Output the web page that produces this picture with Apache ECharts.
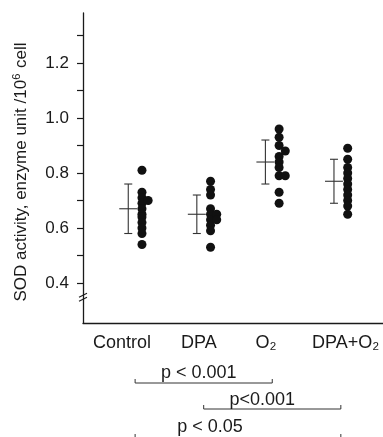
<!DOCTYPE html>
<html>
<head>
<meta charset="utf-8">
<script src="https://cdn.jsdelivr.net/npm/echarts@6/dist/echarts.min.js"></script>
<style>
  html, body { margin: 0; padding: 0; background: #fff; }
  #chart { width: 383px; height: 437px; }
</style>
</head>
<body>
<div id="chart"></div>
<script>
// groups along the x axis
const categories = ['Control', 'DPA', 'O\u2082', 'DPA+O\u2082'];

// individual values per group (main column + dots pushed to the side)
const controlVals = [0.81, 0.73, 0.71, 0.69, 0.67, 0.65, 0.64, 0.62, 0.60, 0.58, 0.54];
const controlSide = [0.70];
const dpaVals = [0.77, 0.74, 0.72, 0.67, 0.65, 0.63, 0.61, 0.59, 0.53];
const dpaSide = [0.65, 0.63];
const o2Vals = [0.96, 0.93, 0.90, 0.86, 0.84, 0.82, 0.79, 0.73, 0.69];
const o2Side = [0.88, 0.79];
const dpaO2Vals = [0.89, 0.85, 0.82, 0.80, 0.78, 0.76, 0.74, 0.72, 0.70, 0.68, 0.65];
const dpaO2Side = [];

// mean +/- SD
const means = [0.67, 0.65, 0.84, 0.77];
const sds = [0.09, 0.07, 0.08, 0.08];

// axis ticks
const yTicks = [0.4, 0.5, 0.6, 0.7, 0.8, 0.9, 1.0, 1.1, 1.2, 1.3];
const yLabels = [0.4, 0.6, 0.8, 1.0, 1.2];

// significance brackets
const pFrom = [1, 2, 1];
const pTo = [3, 4, 4];
const pText = ['p < 0.001', 'p<0.001', 'p < 0.05'];

// layout
const dotShift = 0.1;
const sideShift = 0.09;
const labelShift = [-0.19, -0.07, -0.09, 0.07];
const bracketRowY = [60, 86, 115];
const bracketTextDx = [-5, -10, -28];
const bracketTextDy = [-10, -9, -11];
const yMin = 0.2545, yMax = 1.382;
const breakAt = 0.352;
const ink = '#1a1a1a';
const font = 'Liberation Sans, Arial, sans-serif';

const allVals = [controlVals, dpaVals, o2Vals, dpaO2Vals];
const allSide = [controlSide, dpaSide, o2Side, dpaO2Side];
const dots = [];
allVals.forEach((vals, i) => {
  vals.forEach(v => dots.push([i + 1 + dotShift, v]));
  allSide[i].forEach(v => dots.push([i + 1 + dotShift + sideShift, v]));
});
const labelPos = categories.map((c, i) => i + 1 + labelShift[i]);

const chart = echarts.init(document.getElementById('chart'), null, { renderer: 'canvas' });

const option = {
  animation: false,
  backgroundColor: '#fff',
  grid: { left: 83, right: 0, top: 13, bottom: 114, containLabel: false },
  xAxis: {
    type: 'value',
    min: 0.24,
    max: 4.615,
    splitLine: { show: false },
    axisLine: { show: true, onZero: false, lineStyle: { color: ink, width: 1.3 } },
    axisTick: { show: false },
    axisLabel: {
      customValues: labelPos,
      formatter: v => {
        let best = 0;
        labelPos.forEach((p, i) => { if (Math.abs(p - v) < Math.abs(labelPos[best] - v)) best = i; });
        return categories[best];
      },
      color: ink,
      fontFamily: font,
      fontSize: 18,
      margin: 11
    }
  },
  yAxis: {
    type: 'value',
    min: yMin,
    max: yMax,
    splitLine: { show: false },
    axisLine: { show: true, lineStyle: { color: ink, width: 1.3 } },
    axisTick: { show: true, length: 6, customValues: yTicks, lineStyle: { color: ink, width: 1.2 } },
    axisLabel: {
      customValues: yLabels,
      formatter: v => v.toFixed(1),
      color: ink,
      fontFamily: font,
      fontSize: 17,
      margin: 14
    }
  },
  graphic: [{
    type: 'text',
    x: 21,
    y: 172,
    rotation: Math.PI / 2,
    style: {
      text: 'SOD activity, enzyme unit /10{sup|6} cell',
      align: 'center',
      verticalAlign: 'middle',
      fill: ink,
      font: '17px ' + font,
      rich: { sup: { fontSize: 11, fontFamily: font, fill: ink, verticalAlign: 'top', padding: [0, 1, 8, 0] } }
    }
  }],
  series: [
    {
      type: 'scatter',
      data: dots,
      symbol: 'circle',
      symbolSize: 9,
      itemStyle: { color: '#111', opacity: 1 },
      z: 3
    },
    {
      type: 'custom',
      data: means.map((m, i) => [i + 1 - dotShift, m, sds[i]]),
      encode: { x: 0, y: 1 },
      renderItem: (params, api) => {
        const x = api.value(0), m = api.value(1), s = api.value(2);
        const c = api.coord([x, m]);
        const t = api.coord([x, m + s]);
        const b = api.coord([x, m - s]);
        const st = { stroke: '#333', lineWidth: 1.1 };
        return {
          type: 'group',
          children: [
            { type: 'line', shape: { x1: c[0], y1: t[1], x2: c[0], y2: b[1] }, style: st },
            { type: 'line', shape: { x1: c[0] - 4, y1: t[1], x2: c[0] + 4, y2: t[1] }, style: st },
            { type: 'line', shape: { x1: c[0] - 4, y1: b[1], x2: c[0] + 4, y2: b[1] }, style: st },
            { type: 'line', shape: { x1: c[0] - 9, y1: c[1], x2: c[0] + 9, y2: c[1] }, style: st }
          ]
        };
      },
      z: 2
    },
    {
      type: 'custom',
      clip: false,
      data: [[0.24, breakAt]],
      encode: { x: 0, y: 1 },
      renderItem: (params, api) => {
        const p = api.coord([api.value(0), api.value(1)]);
        const st = { stroke: ink, lineWidth: 1.2 };
        return {
          type: 'group',
          children: [
            { type: 'line', shape: { x1: p[0] - 4, y1: p[1] + 1, x2: p[0] + 4, y2: p[1] - 3 }, style: st },
            { type: 'line', shape: { x1: p[0] - 4, y1: p[1] + 5, x2: p[0] + 4, y2: p[1] + 1 }, style: st }
          ]
        };
      }
    },
    {
      type: 'custom',
      clip: false,
      data: pFrom.map((f, i) => [f, pTo[i], i]),
      encode: { x: [0, 1] },
      renderItem: (params, api) => {
        const i = api.value(2);
        const base = api.coord([0.24, yMin])[1];
        const x1 = api.coord([api.value(0), yMin])[0];
        const x2 = api.coord([api.value(1), yMin])[0];
        const y = base + bracketRowY[i];
        const st = { stroke: '#333', lineWidth: 1 };
        return {
          type: 'group',
          children: [
            { type: 'line', shape: { x1: x1, y1: y, x2: x2, y2: y }, style: st },
            { type: 'line', shape: { x1: x1, y1: y, x2: x1, y2: y - 4 }, style: st },
            { type: 'line', shape: { x1: x2, y1: y, x2: x2, y2: y - 4 }, style: st },
            {
              type: 'text',
              x: (x1 + x2) / 2 + bracketTextDx[i],
              y: y + bracketTextDy[i],
              style: {
                text: pText[i],
                align: 'center',
                verticalAlign: 'middle',
                fill: ink,
                font: '18px ' + font
              }
            }
          ]
        };
      }
    }
  ]
};

chart.setOption(option);
</script>
</body>
</html>
